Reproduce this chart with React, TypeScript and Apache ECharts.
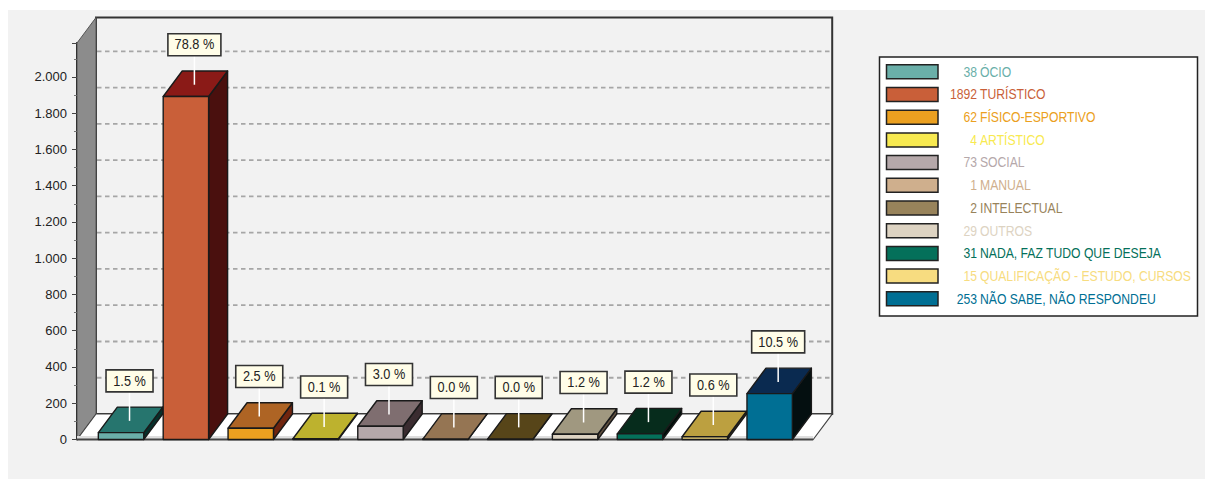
import React, { useEffect, useRef } from "react";
import * as echarts from "echarts";

const categories = ["ÓCIO", "TURÍSTICO", "FÍSICO-ESPORTIVO", "ARTÍSTICO", "SOCIAL", "MANUAL", "INTELECTUAL", "OUTROS", "NADA, FAZ TUDO QUE DESEJA", "QUALIFICAÇÃO - ESTUDO, CURSOS", "NÃO SABE, NÃO RESPONDEU"];
const values = [38, 1892, 62, 4, 73, 1, 2, 29, 31, 15, 253];
const percents = ["1.5 %", "78.8 %", "2.5 %", "0.1 %", "3.0 %", "0.0 %", "0.0 %", "1.2 %", "1.2 %", "0.6 %", "10.5 %"];
const frontColors = ["#6AAFA9", "#C95F39", "#EBA020", "#F8EA50", "#B5A8AA", "#CFAF8D", "#98835B", "#DDD3C2", "#04705A", "#F7DC80", "#006F94"];
const topColors = ["#26756E", "#8A1A17", "#AE6424", "#BDB22E", "#7F6E70", "#957553", "#574519", "#A09880", "#062C1C", "#BCA040", "#0A2A50"];
const sideColors = ["#06302C", "#4A100E", "#70250F", "#6F6A12", "#3A2C30", "#5A452C", "#2E240C", "#605040", "#010F0A", "#7A6020", "#040F10"];
const gridValues = [0, 200, 400, 600, 800, 1000, 1200, 1400, 1600, 1800, 2000];
const gridExtra = [200, 400, 600, 800, 1000, 1200, 1400, 1600, 1800, 2000];
const yMax = 2187;

const DX = 19;
const DY = 25.5;
const FONT = '14px "Liberation Sans", Arial, sans-serif';
const AXIS_OFFSET = 11.6;
const RIGHT_EXTRA = 11.1;
const LEGEND_SCALE = 0.87;
const LABEL_SCALE = 0.91;

function renderFrame(params: any, api: any) {
  const cs = params.coordSys;
  const left = cs.x - AXIS_OFFSET;
  const right = cs.x + cs.width + RIGHT_EXTRA;
  const top = cs.y;
  const bottom = cs.y + cs.height;
  const children: any[] = [];
  children.push({ type: "polygon", shape: { points: [[left + DX, top - DY], [right + DX, top - DY], [right + DX, bottom - DY], [left + DX, bottom - DY]] }, style: { fill: "#F2F2F2", stroke: "#333", lineWidth: 2 } });
  children.push({ type: "polygon", shape: { points: [[left, top], [left + DX, top - DY], [left + DX, bottom - DY], [left, bottom]] }, style: { fill: "#8C8C8C", stroke: "#555", lineWidth: 1 } });
  gridExtra.forEach((v) => {
    const y = api.coord([0, v])[1] - DY;
    children.push({ type: "line", shape: { x1: left + DX + 1, y1: y, x2: right + DX - 1, y2: y }, style: { stroke: "#A6A6A6", lineWidth: 1.8, lineDash: [4.5, 3.5] } });
  });
  children.push({ type: "polygon", shape: { points: [[left, bottom], [left + DX, bottom - DY], [right + DX, bottom - DY], [right, bottom]] }, style: { fill: "#FFFFFF", stroke: "#444", lineWidth: 1.2 } });
  children.push({ type: "rect", shape: { x: left, y: bottom - 3.5, width: right - left, height: 3.5 }, style: { fill: "#DEDEDE" } });
  children.push({ type: "line", shape: { x1: left, y1: bottom, x2: right, y2: bottom }, style: { stroke: "#444", lineWidth: 2 } });
  return { type: "group", children };
}

function renderBar(params: any, api: any) {
  const i = params.dataIndex;
  const c = api.coord([api.value(0), api.value(1)]);
  const base = api.coord([api.value(0), 0]);
  const w = api.size([1, 0])[0] * 0.7;
  const l = c[0] - w / 2;
  const r = c[0] + w / 2;
  const t = c[1];
  const b = base[1];
  const edge = { stroke: "#1A1A1A", lineWidth: 1.4, lineJoin: "round" };
  return {
    type: "group",
    children: [
      { type: "polygon", shape: { points: [[r, t], [r + DX, t - DY], [r + DX, b - DY], [r, b]] }, style: { fill: sideColors[i], ...edge } },
      { type: "polygon", shape: { points: [[l, t], [l + DX, t - DY], [r + DX, t - DY], [r, t]] }, style: { fill: topColors[i], ...edge } },
      { type: "rect", shape: { x: l, y: t, width: w, height: b - t }, style: { fill: frontColors[i], ...edge } },
    ],
  };
}

function renderLabel(params: any, api: any) {
  const i = params.dataIndex;
  const c = api.coord([api.value(0), api.value(1)]);
  const text = percents[i];
  const cx = c[0] + 8.5;
  const faceY = c[1] - DY / 2;
  const h = 22;
  const w = text.length > 5 ? 53 : 47;
  const boxBottom = faceY - 28;
  return {
    type: "group",
    children: [
      { type: "line", shape: { x1: cx, y1: boxBottom, x2: cx, y2: faceY + 1 }, style: { stroke: "#FFFFFF", lineWidth: 1.5 } },
      { type: "rect", shape: { x: cx - w / 2, y: boxBottom - h, width: w, height: h }, style: { fill: "#FFFDE8", stroke: "#333", lineWidth: 1.6 } },
      { type: "text", x: cx, y: boxBottom - h / 2, scaleX: LABEL_SCALE, style: { text, x: 0, y: 0, align: "center", verticalAlign: "middle", fill: "#222", font: FONT } },
    ],
  };
}

function legendGraphics() {
  const rowH = 22.7;
  const elements: any[] = [
    { type: "rect", shape: { x: 879.5, y: 57, width: 318, height: 259 }, style: { fill: "#FFFFFF", stroke: "#222", lineWidth: 1.5 } },
  ];
  categories.forEach((name, i) => {
    const y = 71.8 + i * rowH;
    elements.push({ type: "rect", shape: { x: 886.5, y: y - 7, width: 51.5, height: 14 }, style: { fill: frontColors[i], stroke: "#222", lineWidth: 1.5 } });
    elements.push({ type: "text", x: 977, y, scaleX: LEGEND_SCALE, style: { text: String(values[i]), x: 0, y: 0, align: "right", verticalAlign: "middle", fill: frontColors[i], font: FONT } });
    elements.push({ type: "text", x: 980, y, scaleX: LEGEND_SCALE, style: { text: name, x: 0, y: 0, align: "left", verticalAlign: "middle", fill: frontColors[i], font: FONT } });
  });
  return elements;
}

export default function App() {
  const ref = useRef<HTMLDivElement>(null);
  useEffect(() => {
    const chart = echarts.init(ref.current!, undefined, { renderer: "svg" });
    const data = values.map((v, i) => [i, v]);
    chart.setOption({
      animation: false,
      backgroundColor: "transparent",
      grid: { left: 88.6, top: 43, width: 713.5, height: 396.5, containLabel: false },
      xAxis: { type: "category", data: categories, show: false },
      yAxis: {
        type: "value",
        min: 0,
        max: yMax,
        interval: 200,
        offset: AXIS_OFFSET,
        splitLine: { show: false },
        axisLine: { show: true, lineStyle: { color: "#111", width: 2 } },
        axisTick: { show: true, length: 5, lineStyle: { color: "#444", width: 1 } },
        minorTick: { show: true, splitNumber: 2, length: 3, lineStyle: { color: "#777", width: 1 } },
        axisLabel: {
          margin: 10,
          color: "#222",
          fontFamily: '"Liberation Sans", Arial, sans-serif',
          fontSize: 13,
          showMaxLabel: false,
          formatter: (v: number) => (gridValues.includes(v) ? (v >= 1000 ? `${Math.floor(v / 1000)}.${String(v % 1000).padStart(3, "0")}` : String(v)) : ""),
        },
      },
      graphic: { elements: legendGraphics() },
      series: [
        { type: "custom", name: "frame", data: [[0, 0]], renderItem: renderFrame, silent: true, z: 1, clip: false },
        { type: "custom", name: "bars", data, renderItem: renderBar, silent: true, z: 2, clip: false },
        { type: "custom", name: "labels", data, renderItem: renderLabel, silent: true, z: 3, clip: false },
      ],
    });
    return () => chart.dispose();
  }, []);
  return (
    <div style={{ position: "fixed", left: 0, top: 0, width: 1205, height: 479, background: "#fff", overflow: "hidden" }}>
      <div style={{ position: "absolute", left: 8, top: 10, width: 1197, height: 469, background: "#F2F2F2" }} />
      <div ref={ref} style={{ position: "absolute", left: 0, top: 0, width: 1205, height: 479 }} />
    </div>
  );
}
